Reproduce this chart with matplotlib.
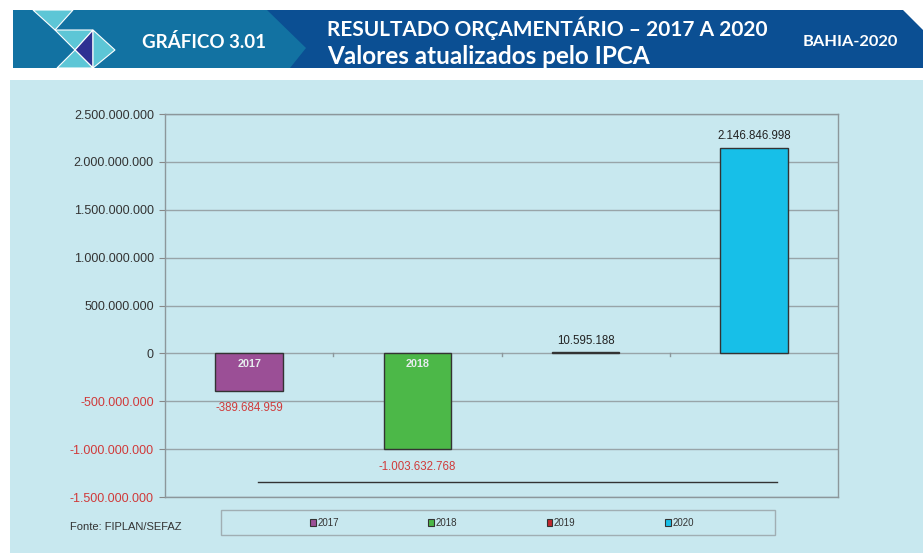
import matplotlib
matplotlib.use("Agg")
import matplotlib.pyplot as plt
from matplotlib.patches import Polygon, Rectangle
from matplotlib.lines import Line2D
from matplotlib.ticker import FuncFormatter, FixedLocator

# ---------------- data ----------------
categories = ["2017", "2018", "2019", "2020"]
values = [-389684959, -1003632768, 10595188, 2146846998]
value_labels = ["-389.684.959", "-1.003.632.768", "10.595.188", "2.146.846.998"]
colors = ["#9b4f96", "#4cb848", "#c1272d", "#17bfe8"]
y_ticks = [-1500000000, -1000000000, -500000000, 0, 500000000,
           1000000000, 1500000000, 2000000000, 2500000000]

W, H = 923, 553
fig = plt.figure(figsize=(W / 100, H / 100), dpi=100)
fig.patch.set_facecolor("white")
plt.rcParams["font.family"] = ["Liberation Sans", "DejaVu Sans"]


def fx(x):
    return x / W


def fy(y):
    return 1 - y / H


def poly(pts, color, ec="none", lw=0, z=1):
    p = Polygon([(fx(a), fy(b)) for a, b in pts], closed=True,
                facecolor=color, edgecolor=ec, linewidth=lw,
                transform=fig.transFigure, zorder=z)
    fig.patches.append(p)


# ---------------- header ----------------
poly([(13, 10), (903, 10), (923, 30), (923, 68), (13, 68)], "#0b4f93")
poly([(13, 10), (267, 10), (306, 48), (290, 68), (13, 68)], "#1272a2", z=2)
# logo triangles
cyan = "#5dc6d6"
poly([(33, 10), (73, 10), (55, 30)], cyan, "white", 0.8, z=3)
poly([(55, 30), (93, 30), (75, 50)], cyan, "white", 0.8, z=3)
poly([(93, 30), (75, 50), (93, 68)], "#2e3192", "white", 0.8, z=3)
poly([(93, 30), (115, 50), (93, 68)], cyan, "white", 0.8, z=3)
poly([(75, 50), (93, 68), (57, 68)], cyan, "white", 0.8, z=3)

hfont = ["Lato", "DejaVu Sans"]
fig.text(fx(142), fy(42), "GRÁFICO 3.01", color="white", fontsize=13.5,
         fontweight="bold", family=hfont, va="center", ha="left", zorder=5)
fig.text(fx(327), fy(28), "RESULTADO ORÇAMENTÁRIO – 2017 A 2020", color="white",
         fontsize=15, fontweight="bold", family=hfont, va="center", ha="left", zorder=5)
fig.text(fx(327), fy(56), "Valores atualizados pelo IPCA", color="white",
         fontsize=17.5, fontweight="bold", family=hfont, va="center", ha="left", zorder=5)
fig.text(fx(803), fy(42), "BAHIA-2020", color="white", fontsize=11.8,
         fontweight="bold", family=hfont, va="center", ha="left", zorder=5)

# ---------------- panel ----------------
fig.patches.append(Rectangle((fx(10), 0), fx(923 - 10), fy(80), facecolor="#c8e8ef",
                             edgecolor="none", transform=fig.transFigure, zorder=-2))

# ---------------- axes ----------------
ax = fig.add_axes([fx(165), fy(497), fx(838 - 165), fy(114) - fy(497)])
ax.set_zorder(10)
ax.set_facecolor("none")
x = list(range(len(categories)))
bars = ax.bar(x, values, width=0.4, color=colors, edgecolor="#333333",
              linewidth=1.0, zorder=3)
for b, lab in zip(bars, categories):
    b.set_label(lab)

ax.set_xlim(-0.5, len(categories) - 0.5)
ax.set_ylim(y_ticks[0], y_ticks[-1])
ax.yaxis.set_major_locator(FixedLocator(y_ticks))
ax.yaxis.set_major_formatter(FuncFormatter(lambda v, p: f"{int(v):,}".replace(",", ".")))
ax.grid(axis="y", color="#98a4a8", linewidth=1.0, zorder=1)
ax.tick_params(axis="y", length=4, color="#888888", labelsize=9, pad=4)
for lbl, v in zip(ax.get_yticklabels(), y_ticks):
    lbl.set_color("#d03a3a" if v < 0 else "#333333")
ax.set_xticks([])
for s in ax.spines.values():
    s.set_color("#8c979b")
    s.set_linewidth(1.0)

# category boundary ticks on zero line
for i in range(1, len(categories)):
    ax.plot([i - 0.5, i - 0.5], [0, -30000000], color="#8c979b", lw=1, zorder=2,
            clip_on=False)

# value labels
for xi, v, lab in zip(x, values, value_labels):
    if v < 0:
        ax.annotate(lab, (xi, v), xytext=(0, -8), textcoords="offset points",
                    ha="center", va="top", fontsize=8.3, color="#d03a3a")
        ax.annotate(categories[xi], (xi, 0), xytext=(0, -4), textcoords="offset points",
                    ha="center", va="top", fontsize=7.8, fontweight="bold",
                    color="#e6ecee", zorder=5)
    else:
        ax.annotate(lab, (xi, v), xytext=(0, 4), textcoords="offset points",
                    ha="center", va="bottom", fontsize=8.3, color="#222222")

# decorative dark line inside plot
ax.add_line(Line2D([fx(258), fx(777)], [fy(482), fy(482)], transform=fig.transFigure,
                   color="#333333", linewidth=1.0, zorder=4))

# ---------------- legend ----------------
fig.patches.append(Rectangle((fx(221), fy(535)), fx(775 - 221), fy(510) - fy(535),
                             facecolor="none", edgecolor="#a0aeb3", linewidth=1.0,
                             transform=fig.transFigure, zorder=1))
handles = [Rectangle((0, 0), 1, 1, facecolor=c, edgecolor="#333333", linewidth=0.8)
           for c in colors]
leg = fig.legend(handles, categories, loc="center", ncol=4,
                 bbox_to_anchor=(fx(502), fy(523)), frameon=False, fontsize=7,
                 handlelength=0.6, handleheight=0.6, handletextpad=0.15,
                 columnspacing=9.2, labelcolor="#333333")

fig.text(fx(70), fy(527), "Fonte: FIPLAN/SEFAZ", fontsize=8, color="#333333",
         va="center", ha="left")

fig.savefig("out.png", dpi=100, facecolor=fig.get_facecolor())
